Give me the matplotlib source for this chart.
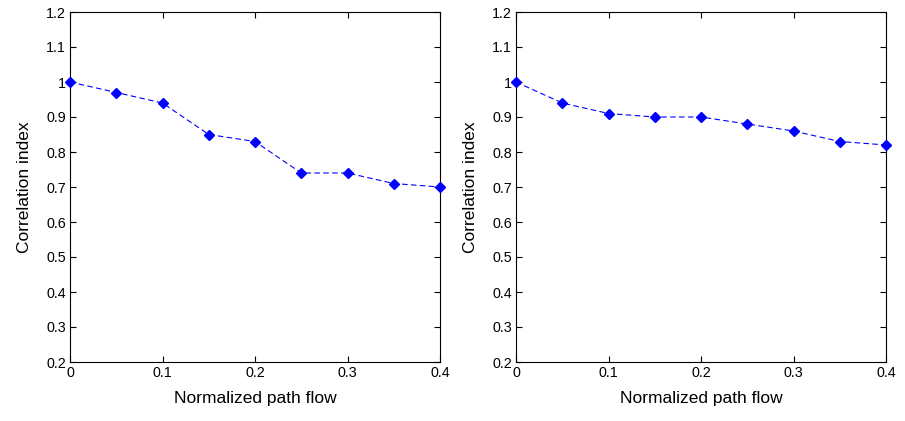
import numpy as np
import matplotlib
matplotlib.use('Agg')
import matplotlib.pyplot as plt
from matplotlib.ticker import FuncFormatter

# dados
fluxo = [0, 0.05, 0.1, 0.15, 0.2, 0.25, 0.3, 0.35, 0.4]
corr_esq = [1.0, 0.97, 0.94, 0.85, 0.83, 0.74, 0.74, 0.71, 0.70]
corr_dir = [1.0, 0.94, 0.91, 0.90, 0.90, 0.88, 0.86, 0.83, 0.82]

xticks = [0, 0.1, 0.2, 0.3, 0.4]
yticks = [0.2, 0.3, 0.4, 0.5, 0.6, 0.7, 0.8, 0.9, 1.0, 1.1, 1.2]

plt.rcParams['font.family'] = ['Liberation Sans', 'DejaVu Sans']

fig = plt.figure(figsize=(9.05, 4.21), dpi=100)
ax1 = fig.add_axes([70 / 905, 59 / 421, 370 / 905, 350 / 421])
ax2 = fig.add_axes([516 / 905, 59 / 421, 370 / 905, 350 / 421])

fmt = FuncFormatter(lambda v, p: f'{v:g}')

for ax, serie in [(ax1, corr_esq), (ax2, corr_dir)]:
    ax.plot(fluxo, serie, color='blue', linestyle='--', linewidth=0.8,
            dashes=(5, 3), marker='D', markersize=5, markerfacecolor='blue',
            markeredgecolor='blue', clip_on=False, zorder=3)
    ax.set_xlim(0, 0.4)
    ax.set_ylim(0.2, 1.2)
    ax.set_xticks(xticks)
    ax.set_yticks(yticks)
    ax.xaxis.set_major_formatter(fmt)
    ax.yaxis.set_major_formatter(fmt)
    ax.tick_params(direction='in', top=True, right=True, labelsize=10.3, length=4, pad=3)
    ax.set_xlabel('Normalized path flow', fontsize=12.5, labelpad=8)
    ax.set_ylabel('Correlation index', fontsize=12.5, labelpad=10)
    for s in ax.spines.values():
        s.set_linewidth(0.8)

fig.savefig('out.png', dpi=100)
